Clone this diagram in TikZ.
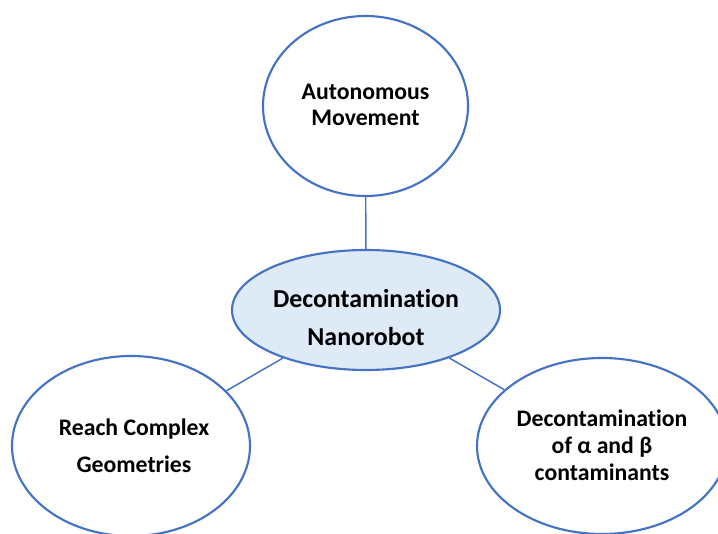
\documentclass[tikz,border=0pt]{standalone}
\usepackage{fontspec}
\setmainfont[Ligatures=NoCommon]{Carlito}
\usetikzlibrary{shapes.geometric}
\definecolor{bubbleblue}{RGB}{68,114,196}
\definecolor{hubfill}{RGB}{222,235,247}

\begin{document}
\begin{tikzpicture}[x=0.75pt,y=0.75pt,yscale=-1,xscale=1,
  bubble/.style={ellipse, draw=bubbleblue, line width=1.6pt, fill=white, inner sep=0pt},
  lbl/.style={font=\fontsize{17.8}{19.5}\selectfont\bfseries, align=center, inner sep=0.75pt},
  link/.style={draw=bubbleblue, line width=1.1pt}]
\useasboundingbox (0,0) rectangle (718,534);

%Shape: Ellipse [hub]
\node (hub) [bubble, fill=hubfill, minimum width=201pt, minimum height=90pt] at (366,310) {};
%Shape: Ellipse [top]
\node (auto) [bubble, minimum width=153.75pt, minimum height=135pt] at (365.5,106) {};
%Shape: Ellipse [left]
\node (reach) [bubble, minimum width=178.5pt, minimum height=135pt] at (131,446) {};
%Shape: Ellipse [right]
\node (decon) [bubble, minimum width=187.5pt, minimum height=132pt] at (602,446) {};

%Straight Lines
\draw [link] (auto) -- (hub) ;
\draw [link] (hub) -- (reach) ;
\draw [link] (hub) -- (decon) ;

% Text Node
\node (hub-t) [lbl, font=\fontsize{19.4}{29}\selectfont\bfseries] at (366,317.5) {Decontamination\\Nanorobot};
% Text Node
\node (auto-t) [lbl] at (365.5,105) {Autonomous\\Movement};
% Text Node
\node (reach-t) [lbl, font=\fontsize{17.8}{28}\selectfont\bfseries] at (134,445.5) {Reach Complex\\Geometries};
% Text Node
\node (decon-t) [lbl, font=\fontsize{17.8}{20.2}\selectfont\bfseries] at (602,445) {Decontamination\\of α and β\\contaminants};

\end{tikzpicture}
\end{document}
